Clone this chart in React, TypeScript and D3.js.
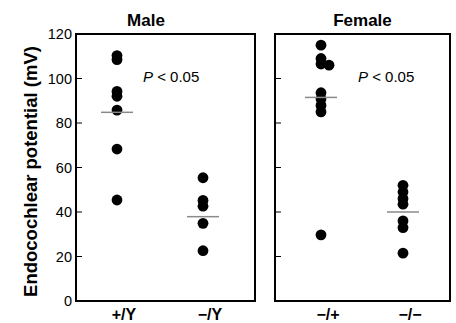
import * as d3 from "d3";
import React, { useRef, useEffect } from "react";

// values (mV)
const panels = ["Male", "Female"];
const maleGenotypes = ["+/Y", "\u2212/Y"];
const femaleGenotypes = ["\u2212/+", "\u2212/\u2212"];

const malePlusY = [110.3, 108.5, 94.2, 92, 85.8, 68.3, 45.4];
const maleMinusY = [55.4, 45.2, 42.6, 34.9, 22.6];
const femaleMinusPlus = [115, 109, 106.5, 106, 93.6, 90.8, 87.9, 85, 29.7];
const femaleMinusMinus = [52, 49, 46, 43.5, 36, 33, 21.5];

const maleMeans = [84.8, 37.9];
const femaleMeans = [91.5, 40];

const yTicks = [0, 20, 40, 60, 80, 100, 120];
const pLabel = "< 0.05";

const FONT = "'Liberation Sans', Arial, Helvetica, sans-serif";

const App: React.FC = () => {
  const svgRef = useRef<SVGSVGElement | null>(null);

  useEffect(() => {
    const width = 456;
    const height = 323;
    const top = 34;
    const bottom = 301;
    const r = 5.4;

    const svg = d3.select(svgRef.current)
      .attr("width", width)
      .attr("height", height)
      .html("");

    const yScale = d3.scaleLinear().domain([0, 120]).range([bottom, top]);

    const layout = [
      {
        title: panels[0], titleX: 146, left: 76, right: 255,
        xScale: d3.scalePoint<string>().domain(maleGenotypes).range([117, 203]),
        groups: [malePlusY, maleMinusY], means: maleMeans, pX: 143, labels: true,
      },
      {
        title: panels[1], titleX: 362.5, left: 275, right: 450,
        xScale: d3.scalePoint<string>().domain(femaleGenotypes).range([321, 403]),
        groups: [femaleMinusPlus, femaleMinusMinus], means: femaleMeans, pX: 358, labels: false,
      },
    ];

    layout.forEach(p => {
      const g = svg.append("g");

      // frame
      g.append("rect")
        .attr("x", p.left)
        .attr("y", top)
        .attr("width", p.right - p.left)
        .attr("height", bottom - top)
        .attr("fill", "none")
        .attr("stroke", "#000")
        .attr("stroke-width", 2);

      // inward ticks
      g.selectAll(".tick")
        .data(yTicks.slice(1, -1))
        .enter()
        .append("line")
        .attr("x1", p.left)
        .attr("x2", p.left + 6)
        .attr("y1", d => yScale(d))
        .attr("y2", d => yScale(d))
        .attr("stroke", "#000")
        .attr("stroke-width", 1);

      if (p.labels) {
        g.selectAll(".tlabel")
          .data(yTicks)
          .enter()
          .append("text")
          .attr("x", p.left - 4)
          .attr("y", d => yScale(d))
          .attr("dy", "0.36em")
          .attr("text-anchor", "end")
          .style("font-family", FONT)
          .style("font-size", "14.5px")
          .text(d => d);
      }

      // title
      g.append("text")
        .attr("x", p.titleX)
        .attr("y", 26)
        .attr("text-anchor", "middle")
        .style("font-family", FONT)
        .style("font-weight", "bold")
        .style("font-size", "17px")
        .text(p.title);

      // P value
      const pt = g.append("text")
        .attr("x", p.pX)
        .attr("y", 82)
        .style("font-family", FONT)
        .style("font-size", "15px");
      pt.append("tspan").style("font-style", "italic").text("P");
      pt.append("tspan").text(" " + pLabel);

      const cats = p.xScale.domain();
      cats.forEach((cat, i) => {
        const cx = p.xScale(cat)!;
        const vals = p.groups[i];

        // dodge a point that sits on top of an earlier one
        const pts = vals.map((v, j) => {
          const clash = vals.slice(0, j).some(u => Math.abs(u - v) < 1);
          return { v, x: clash ? cx + 8 : cx };
        });

        g.selectAll(`.dot-${i}`)
          .data(pts)
          .enter()
          .append("circle")
          .attr("cx", d => d.x)
          .attr("cy", d => yScale(d.v))
          .attr("r", r)
          .attr("fill", "#000");

        // mean line
        g.append("line")
          .attr("x1", cx - 16)
          .attr("x2", cx + 16)
          .attr("y1", yScale(p.means[i]))
          .attr("y2", yScale(p.means[i]))
          .attr("stroke", "#8a8a8a")
          .attr("stroke-width", 1.5);

        // category label
        g.append("text")
          .attr("x", cx + 7)
          .attr("y", 320)
          .attr("text-anchor", "middle")
          .style("font-family", FONT)
          .style("font-weight", "bold")
          .style("font-size", "16px")
          .text(cat);
      });
    });

    // y axis title
    svg.append("text")
      .attr("transform", `translate(37,${(top + bottom) / 2 + 4}) rotate(-90)`)
      .attr("text-anchor", "middle")
      .style("font-family", FONT)
      .style("font-weight", "bold")
      .style("font-size", "18.5px")
      .text("Endocochlear potential (mV)");
  }, []);

  return (
    <svg
      ref={svgRef}
      style={{ position: "absolute", left: 0, top: 0, background: "#fff" }}
    ></svg>
  );
};

export default App;
